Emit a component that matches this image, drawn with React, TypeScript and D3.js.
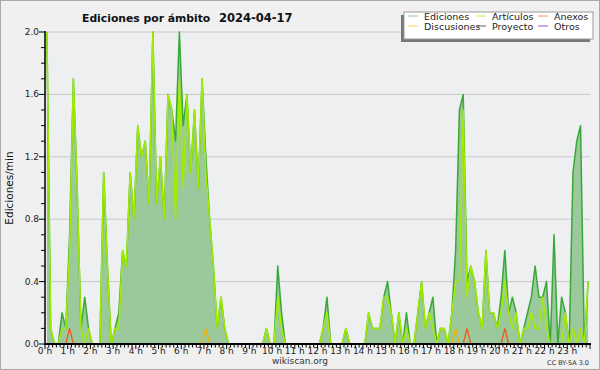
import React from "react";
import { scaleLinear, area, line, range, curveLinear } from "d3";

// 10-minute bins, edits per minute (144 values, one row per hour)
const ediciones = [
  2.0, 0.1, 0, 0, 0.2, 0.1,
  0.7, 1.7, 1.0, 0.1, 0.3, 0.1,
  0, 0, 0, 1.1, 0.5, 0,
  0.1, 0.2, 0.6, 0.5, 1.1, 0.8,
  1.4, 1.2, 1.3, 0.9, 2.0, 0.9,
  1.2, 0.8, 1.6, 1.5, 1.3, 2.0,
  1.4, 1.6, 1.1, 1.5, 1.0, 1.7,
  1.2, 0.8, 0.5, 0.1, 0.3, 0.1,
  0, 0, 0, 0, 0, 0,
  0, 0, 0, 0, 0.1, 0,
  0, 0.5, 0.2, 0, 0, 0,
  0, 0, 0, 0, 0, 0,
  0, 0.1, 0.3, 0, 0, 0,
  0, 0.1, 0, 0, 0, 0,
  0, 0.2, 0.1, 0.1, 0.1, 0.3,
  0.4, 0.2, 0, 0.2, 0, 0.2,
  0, 0, 0.2, 0.4, 0.1, 0.2,
  0.3, 0, 0.1, 0.1, 0, 0.2,
  0.6, 1.5, 1.6, 0.4, 0.5, 0.4,
  0.2, 0.1, 0.6, 0.2, 0.2, 0.1,
  0.3, 0.6, 0.2, 0.3, 0.2, 0,
  0.1, 0.2, 0.3, 0.5, 0.3, 0.3,
  0.4, 0, 0.7, 0, 0.3, 0.2,
  0, 1.1, 1.3, 1.4, 0, 0.4,
];

const articulos = [
  2.0, 0.1, 0, 0, 0.1, 0.1,
  0.6, 1.7, 1.0, 0.1, 0, 0.1,
  0, 0, 0, 1.1, 0.5, 0,
  0.1, 0.1, 0.6, 0.5, 1.1, 0.8,
  1.4, 1.2, 1.3, 0.9, 2.0, 0.9,
  1.2, 0.8, 1.6, 1.5, 0.8, 1.7,
  1.0, 1.6, 1.1, 1.5, 1.0, 1.7,
  1.1, 0.8, 0.5, 0.1, 0.3, 0.1,
  0, 0, 0, 0, 0, 0,
  0, 0, 0, 0, 0.1, 0,
  0, 0.3, 0.1, 0, 0, 0,
  0, 0, 0, 0, 0, 0,
  0, 0.1, 0.2, 0, 0, 0,
  0, 0.1, 0, 0, 0, 0,
  0, 0.2, 0.1, 0.1, 0.1, 0.3,
  0.3, 0.2, 0, 0.2, 0, 0.1,
  0, 0, 0.2, 0.4, 0.1, 0.2,
  0.1, 0, 0.1, 0.1, 0, 0.2,
  0.4, 0.4, 1.5, 0.3, 0.5, 0.4,
  0.2, 0.1, 0.6, 0.2, 0.2, 0.1,
  0.2, 0.4, 0.2, 0.1, 0.2, 0,
  0.1, 0.1, 0.2, 0.1, 0.1, 0.3,
  0.1, 0, 0, 0, 0, 0.2,
  0, 0.1, 0, 0.1, 0, 0.4,
];

// sparse series: [bin index, value]
const anexosBins = [[6, 0.1], [111, 0.1], [121, 0.1]];
const discusionesBins = [[42, 0.1], [108, 0.1]];

const hourLabels = range(0, 24).map((h) => `${h} h`);
const yTicks = [0, 0.4, 0.8, 1.2, 1.6, 2.0];

const legendItems = [
  { name: "Ediciones", color: "#86cf86", col: 0, row: 0 },
  { name: "Artículos", color: "#c9ec55", col: 1, row: 0 },
  { name: "Anexos", color: "#f98a5a", col: 2, row: 0 },
  { name: "Discusiones", color: "#f8d44a", col: 0, row: 1 },
  { name: "Proyecto", color: "#606060", col: 1, row: 1 },
  { name: "Otros", color: "#9a4fe8", col: 2, row: 1 },
];

const W = 600;
const H = 370;
const left = 45;
const right = 590;
const top = 32;
const bottom = 344;
const font = "DejaVu Sans, Verdana, sans-serif";

function fromBins(bins) {
  const arr = new Array(ediciones.length).fill(0);
  bins.forEach(([i, v]) => (arr[i] = v));
  return arr;
}

export default function App() {
  const x = scaleLinear().domain([0, 24]).range([left, right]);
  const y = scaleLinear().domain([0, 2]).range([bottom, top]);
  const px = (_d, i) => x((i + 0.5) / 6);

  const areaGen = area().x(px).y0(y(0)).y1((d) => y(d)).curve(curveLinear);
  const lineGen = line().x(px).y((d) => y(d));

  const anexos = fromBins(anexosBins);
  const discusiones = fromBins(discusionesBins);

  const minorX = range(0, 24 * 6 + 1);
  const minorY = range(0, 21);

  const legendX = [408, 476, 538];
  const legendY = [19, 29];

  return (
    <svg
      width={W}
      height={H}
      style={{ position: "absolute", left: 0, top: 0, display: "block" }}
      fontFamily={font}
    >
      <rect x={0} y={0} width={W} height={H} fill="#f0f0f0" />
      <rect x={0.5} y={0.5} width={W - 1} height={H - 1} fill="none" stroke="#a8a8a8" />
      <rect x={left} y={top} width={right - left} height={bottom - top} fill="#eeeff1" />

      {/* grid */}
      {yTicks.slice(1).map((t) => (
        <line key={t} x1={left} x2={right} y1={y(t)} y2={y(t)} stroke="#c9c9c9" strokeWidth={1} />
      ))}

      {/* series */}
      <path d={areaGen(ediciones)} fill="#9cc99c" />
      <path d={lineGen(ediciones)} fill="none" stroke="#38a838" strokeWidth={1.5} strokeLinejoin="round" />
      <path d={lineGen(articulos)} fill="none" stroke="#a2ec00" strokeWidth={1.5} strokeLinejoin="round" />
      <path d={lineGen(discusiones)} fill="none" stroke="#f4b000" strokeWidth={1.3} />
      <path d={lineGen(anexos)} fill="none" stroke="#ec5a1c" strokeWidth={1.3} />

      {/* y axis */}
      <line x1={left} x2={left} y1={top - 1} y2={bottom + 1} stroke="#000" strokeWidth={1.5} />
      {minorY.map((k) => (
        <line
          key={k}
          x1={left - (k % 4 === 0 ? 6 : 4)}
          x2={left}
          y1={y(k / 10)}
          y2={y(k / 10)}
          stroke="#000"
          strokeWidth={1}
        />
      ))}
      {yTicks.map((t) => (
        <text key={t} x={39} y={y(t) + 3} fontSize={9} textAnchor="end" fill="#222">
          {t.toFixed(1)}
        </text>
      ))}
      <text
        transform={`translate(13,${(top + bottom) / 2}) rotate(-90)`}
        fontSize={10.5}
        textAnchor="middle"
        fill="#111"
      >
        Ediciones/min
      </text>

      {/* x axis */}
      <line x1={left} x2={right + 1} y1={bottom} y2={bottom} stroke="#000" strokeWidth={2} />
      {minorX.map((k) => (
        <line
          key={k}
          x1={x(k / 6)}
          x2={x(k / 6)}
          y1={bottom}
          y2={bottom + (k % 6 === 0 ? 5 : 3.5)}
          stroke="#000"
          strokeWidth={1}
        />
      ))}
      {hourLabels.map((lab, h) => (
        <text key={lab} x={x(h)} y={353.5} fontSize={9} textAnchor="middle" fill="#222">
          {lab}
        </text>
      ))}

      {/* title */}
      <text x={82} y={22} fontSize={10.8} fontWeight="bold" fill="#111">
        Ediciones por ámbito
      </text>
      <text x={219} y={22} fontSize={11.5} fontWeight="bold" fill="#111">
        2024-04-17
      </text>

      {/* legend */}
      <rect x={401} y={15} width={189} height={27} fill="#777" />
      <rect x={404} y={12} width={189} height={27} fill="#fff" stroke="#9a9a9a" strokeWidth={1} />
      {legendItems.map((it) => (
        <g key={it.name}>
          <line
            x1={legendX[it.col]}
            x2={legendX[it.col] + 10}
            y1={legendY[it.row] - 3}
            y2={legendY[it.row] - 3}
            stroke={it.color}
            strokeWidth={1}
          />
          <text x={legendX[it.col] + 16} y={legendY[it.row] + 1} fontSize={9.5} fill="#222">
            {it.name}
          </text>
        </g>
      ))}

      {/* footer */}
      <text x={300} y={364} fontSize={9} textAnchor="middle" fill="#333">
        wikiscan.org
      </text>
      <text x={589} y={365} fontSize={6.5} textAnchor="end" fill="#333">
        CC BY-SA 3.0
      </text>
    </svg>
  );
}
